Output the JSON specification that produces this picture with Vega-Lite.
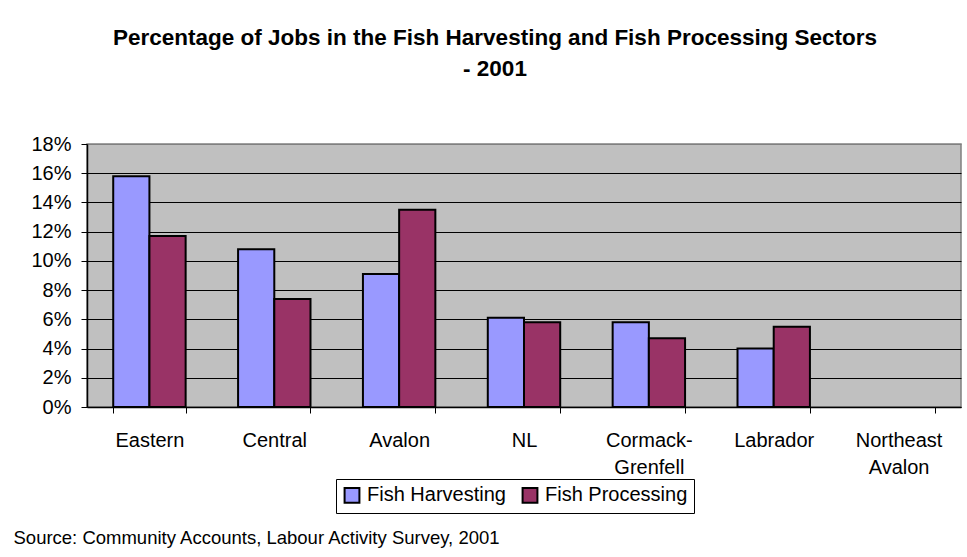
{
  "$schema": "https://vega.github.io/schema/vega-lite/v6.json",
  "width": 874,
  "height": 263,
  "autosize": {"type": "none"},
  "padding": {"left": 87, "top": 144, "right": 6, "bottom": 150},
  "background": "white",
  "title": {
    "text": ["Percentage of Jobs in the Fish Harvesting and Fish Processing Sectors", "- 2001"],
    "font": "Liberation Sans",
    "fontSize": 22.5,
    "fontWeight": "bold",
    "color": "black",
    "lineHeight": 31,
    "anchor": "middle",
    "dx": -29,
    "offset": 54
  },
  "config": {
    "view": {"fill": "#C0C0C0", "stroke": "#808080", "strokeWidth": 1.5}
  },
  "data": {
    "values": [
      {"region": "Eastern", "sector": "Fish Harvesting", "pct": 0.158},
      {"region": "Eastern", "sector": "Fish Processing", "pct": 0.117},
      {"region": "Central", "sector": "Fish Harvesting", "pct": 0.108},
      {"region": "Central", "sector": "Fish Processing", "pct": 0.074},
      {"region": "Avalon", "sector": "Fish Harvesting", "pct": 0.091},
      {"region": "Avalon", "sector": "Fish Processing", "pct": 0.135},
      {"region": "NL", "sector": "Fish Harvesting", "pct": 0.061},
      {"region": "NL", "sector": "Fish Processing", "pct": 0.058},
      {"region": "Cormack-Grenfell", "sector": "Fish Harvesting", "pct": 0.058},
      {"region": "Cormack-Grenfell", "sector": "Fish Processing", "pct": 0.047},
      {"region": "Labrador", "sector": "Fish Harvesting", "pct": 0.040},
      {"region": "Labrador", "sector": "Fish Processing", "pct": 0.055}
    ]
  },
  "mark": {"type": "bar", "stroke": "black", "strokeWidth": 2},
  "encoding": {
    "x": {
      "field": "region",
      "type": "nominal",
      "sort": null,
      "scale": {
        "domain": ["Eastern", "Central", "Avalon", "NL", "Cormack-Grenfell", "Labrador", "Northeast Avalon"],
        "paddingInner": 0.42,
        "paddingOuter": 0.21
      },
      "axis": {
        "title": "Source: Community Accounts, Labour Activity Survey, 2001",
        "titleX": -74,
        "titleY": 136,
        "titleAlign": "left",
        "titleAnchor": "start",
        "titleBaseline": "alphabetic",
        "titleFont": "Liberation Sans",
        "titleFontSize": 18.5,
        "titleFontWeight": "normal",
        "titleColor": "black",
        "labelAngle": 0,
        "labelFont": "Liberation Sans",
        "labelFontSize": 20,
        "labelColor": "black",
        "labelBaseline": "alphabetic",
        "labelPadding": 33,
        "labelLineHeight": 27,
        "labelOverlap": false,
        "labelLimit": 300,
        "labelExpr": "datum.label == 'Cormack-Grenfell' ? ['Cormack-', 'Grenfell'] : datum.label == 'Northeast Avalon' ? ['Northeast', 'Avalon'] : datum.label",
        "tickBand": "extent",
        "tickSize": 6,
        "tickColor": "black",
        "domainColor": "black",
        "domainWidth": 1.5,
        "grid": false
      }
    },
    "xOffset": {
      "field": "sector",
      "type": "nominal",
      "scale": {"paddingInner": 0, "paddingOuter": 0}
    },
    "y": {
      "field": "pct",
      "type": "quantitative",
      "scale": {"domain": [0, 0.18], "nice": false},
      "axis": {
        "title": null,
        "values": [0, 0.02, 0.04, 0.06, 0.08, 0.1, 0.12, 0.14, 0.16, 0.18],
        "format": ".0%",
        "labelFont": "Liberation Sans",
        "labelFontSize": 20,
        "labelColor": "black",
        "labelPadding": 10,
        "tickSize": 6,
        "tickColor": "black",
        "domainColor": "black",
        "domainWidth": 1.5,
        "grid": true,
        "gridColor": {"condition": {"test": "datum.value >= 0.179", "value": "#808080"}, "value": "black"},
        "gridWidth": 1
      }
    },
    "color": {
      "field": "sector",
      "type": "nominal",
      "scale": {"domain": ["Fish Harvesting", "Fish Processing"], "range": ["#9999FF", "#993366"]},
      "legend": {
        "title": null,
        "orient": "none",
        "legendX": 249,
        "legendY": 335,
        "direction": "horizontal",
        "strokeColor": "black",
        "fillColor": "white",
        "padding": 6,
        "symbolType": "square",
        "symbolSize": 220,
        "symbolStrokeColor": "black",
        "symbolStrokeWidth": 2,
        "symbolOpacity": 1,
        "labelFont": "Liberation Sans",
        "labelFontSize": 20,
        "labelColor": "black",
        "labelOffset": 5,
        "columnPadding": 12
      }
    }
  }
}
